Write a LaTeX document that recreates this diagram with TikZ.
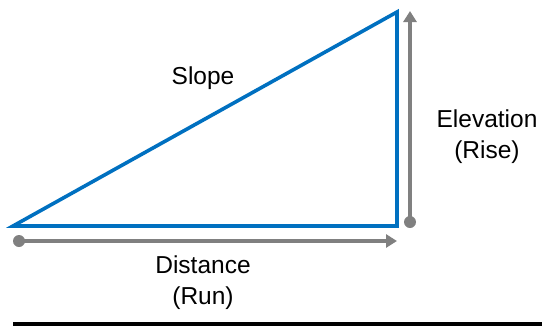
\documentclass[tikz,border=0pt]{standalone}
\usepackage{fontspec}
\setmainfont{Liberation Sans}
\usetikzlibrary{arrows.meta}
\definecolor{slopeblue}{HTML}{0070C0}
\definecolor{arrgray}{HTML}{808080}
\begin{document}
\begin{tikzpicture}[x=1pt,y=-1pt,
  tri/.style={draw=slopeblue,line width=3.6pt,line join=miter},
  measure/.style={draw=arrgray,line width=4pt,-{Triangle[width=13pt,length=11pt]}},
  dotstyle/.style={fill=arrgray,circle,inner sep=0pt,minimum size=12pt},
  lbl/.style={align=center,font=\fontsize{24.5}{31}\selectfont,text=black}]
\useasboundingbox (0,0) rectangle (542,327);
\coordinate (A) at (13,226);
\coordinate (B) at (397,226);
\coordinate (C) at (397,12);
\draw[tri] (A) -- (B) -- (C) -- cycle;
% horizontal measure
\coordinate (h0) at (19,241);
\coordinate (h1) at (397,241);
\begin{scope}
\clip (13,220) rectangle (542,260);
\node[dotstyle] (hdot) at (h0) {};
\end{scope}
\draw[measure] (h0) -- (h1);
% vertical measure
\coordinate (v0) at (410,222);
\coordinate (v1) at (410,11);
\node[dotstyle] (vdot) at (v0) {};
\draw[measure] (v0) -- (v1);
% labels
\node[lbl] (slope) at (203,78) {Slope};
\node[lbl] (elev) at (487,137) {Elevation\\(Rise)};
\node[lbl] (dist) at (203,283) {Distance\\(Run)};
% bottom rule
\coordinate (r0) at (13,324);
\coordinate (r1) at (542,324);
\draw[line width=3.4pt,black] (r0) -- (r1);
\end{tikzpicture}
\end{document}
